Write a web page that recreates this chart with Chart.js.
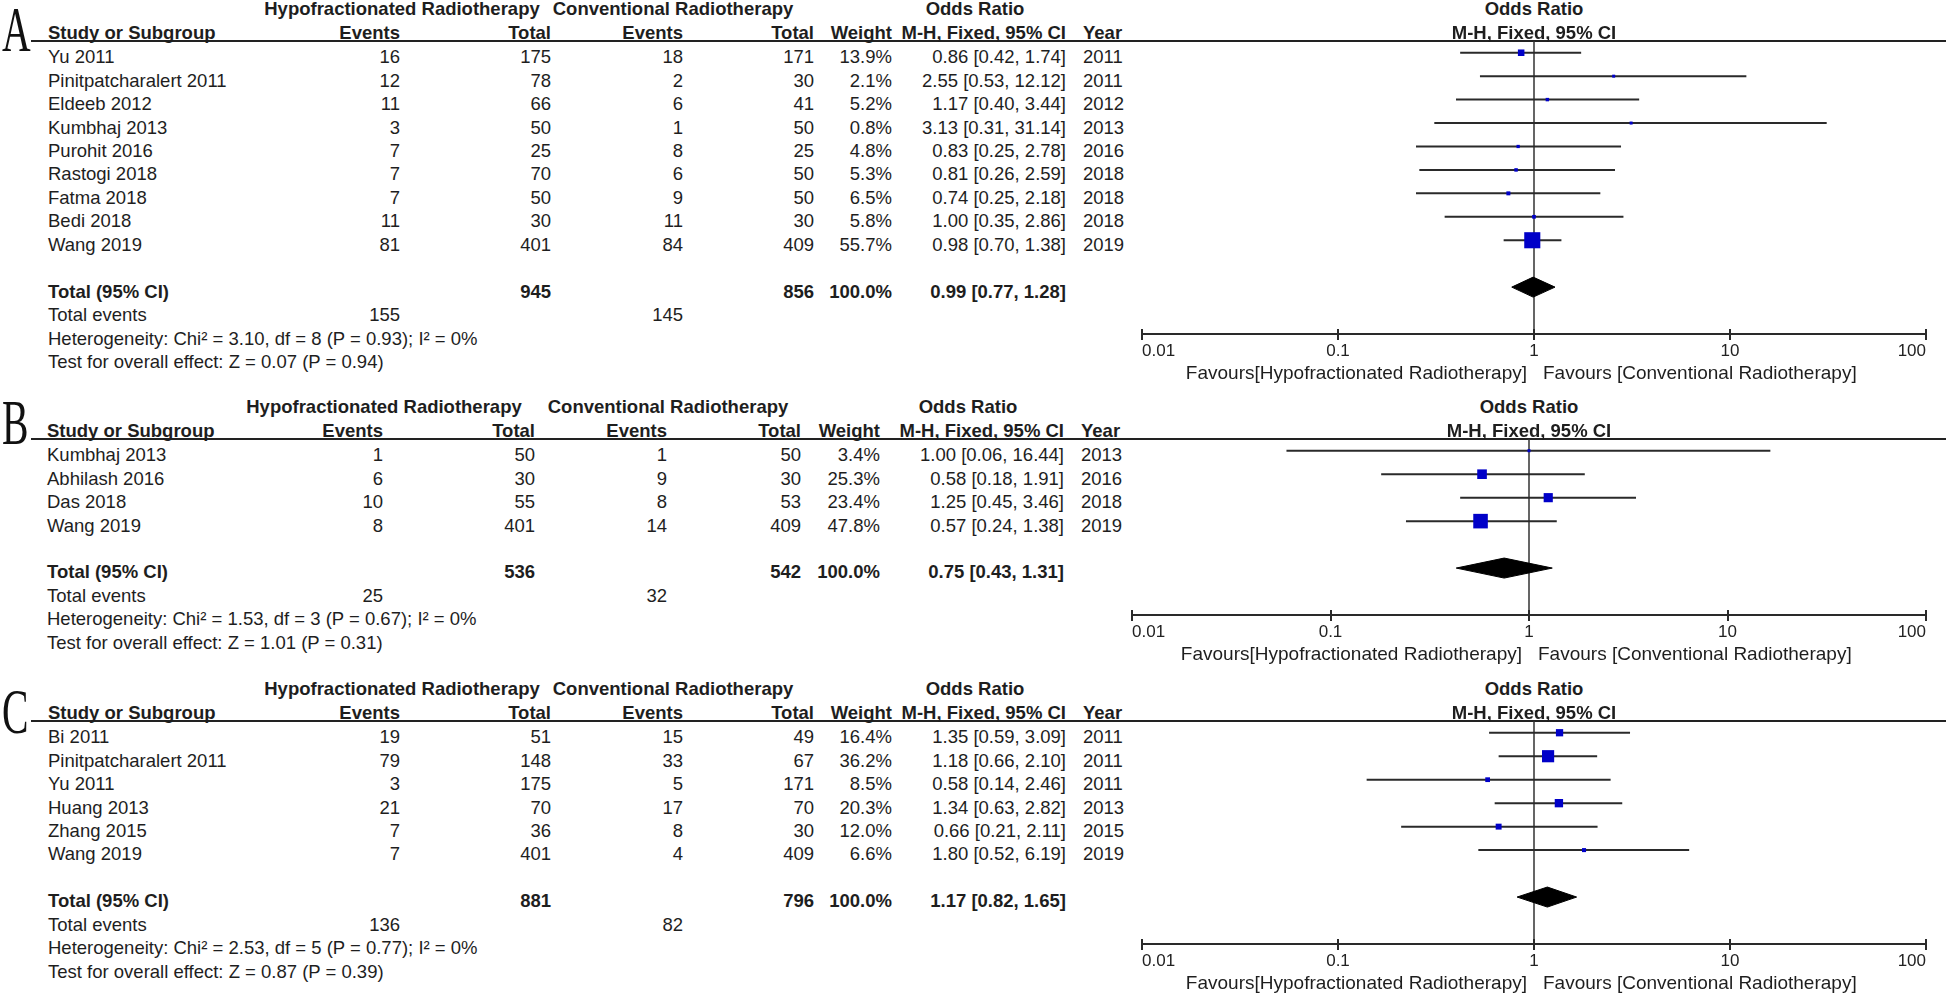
<!DOCTYPE html>
<html>
<head>
<meta charset="utf-8">
<script src="https://cdn.jsdelivr.net/npm/chart.js@4.4.1/dist/chart.umd.min.js"></script>
<style>
  html, body { margin: 0; padding: 0; background: #fff; }
  #page { position: relative; width: 1946px; height: 994px; overflow: hidden;
    font-family: "Liberation Sans", Arial, sans-serif; font-size: 18.5px; color: #1e1e1e; }
  .t { position: absolute; height: 22px; line-height: 22px; white-space: nowrap; }
  .b { font-weight: bold; }
  .r { transform: translateX(-100%); }
  .c { transform: translateX(-50%); }
  .fav { font-size: 19px; }
  .rule { position: absolute; height: 2px; background: #222; left: 31px; right: 0; }
  .letter { position: absolute; font-family: "Liberation Serif", "Times New Roman", serif;
    font-size: 64px; line-height: 64px; transform: scaleX(0.62); transform-origin: left center; color: #111; }
  canvas { position: absolute; }
</style>
</head>
<body>
<div id="page"></div>
<script>
// panel A
var studiesA = ['Yu 2011', 'Pinitpatcharalert 2011', 'Eldeeb 2012', 'Kumbhaj 2013', 'Purohit 2016', 'Rastogi 2018', 'Fatma 2018', 'Bedi 2018', 'Wang 2019'];
var hypoEventsA = [16, 12, 11, 3, 7, 7, 7, 11, 81];
var hypoTotalA = [175, 78, 66, 50, 25, 70, 50, 30, 401];
var convEventsA = [18, 2, 6, 1, 8, 6, 9, 11, 84];
var convTotalA = [171, 30, 41, 50, 25, 50, 50, 30, 409];
var weightA = [13.9, 2.1, 5.2, 0.8, 4.8, 5.3, 6.5, 5.8, 55.7];
var oddsA = [0.86, 2.55, 1.17, 3.13, 0.83, 0.81, 0.74, 1.00, 0.98];
var lowA = [0.42, 0.53, 0.40, 0.31, 0.25, 0.26, 0.25, 0.35, 0.70];
var highA = [1.74, 12.12, 3.44, 31.14, 2.78, 2.59, 2.18, 2.86, 1.38];
var yearA = [2011, 2011, 2012, 2013, 2016, 2018, 2018, 2018, 2019];
var pooledA = [0.99, 0.77, 1.28];
var totalsA = [945, 856];
var totalEventsA = [155, 145];
var hetA = 'Heterogeneity: Chi² = 3.10, df = 8 (P = 0.93); I² = 0%';
var testA = 'Test for overall effect: Z = 0.07 (P = 0.94)';

// panel B
var studiesB = ['Kumbhaj 2013', 'Abhilash 2016', 'Das 2018', 'Wang 2019'];
var hypoEventsB = [1, 6, 10, 8];
var hypoTotalB = [50, 30, 55, 401];
var convEventsB = [1, 9, 8, 14];
var convTotalB = [50, 30, 53, 409];
var weightB = [3.4, 25.3, 23.4, 47.8];
var oddsB = [1.00, 0.58, 1.25, 0.57];
var lowB = [0.06, 0.18, 0.45, 0.24];
var highB = [16.44, 1.91, 3.46, 1.38];
var yearB = [2013, 2016, 2018, 2019];
var pooledB = [0.75, 0.43, 1.31];
var totalsB = [536, 542];
var totalEventsB = [25, 32];
var hetB = 'Heterogeneity: Chi² = 1.53, df = 3 (P = 0.67); I² = 0%';
var testB = 'Test for overall effect: Z = 1.01 (P = 0.31)';

// panel C
var studiesC = ['Bi 2011', 'Pinitpatcharalert 2011', 'Yu 2011', 'Huang 2013', 'Zhang 2015', 'Wang 2019'];
var hypoEventsC = [19, 79, 3, 21, 7, 7];
var hypoTotalC = [51, 148, 175, 70, 36, 401];
var convEventsC = [15, 33, 5, 17, 8, 4];
var convTotalC = [49, 67, 171, 70, 30, 409];
var weightC = [16.4, 36.2, 8.5, 20.3, 12.0, 6.6];
var oddsC = [1.35, 1.18, 0.58, 1.34, 0.66, 1.80];
var lowC = [0.59, 0.66, 0.14, 0.63, 0.21, 0.52];
var highC = [3.09, 2.10, 2.46, 2.82, 2.11, 6.19];
var yearC = [2011, 2011, 2011, 2013, 2015, 2019];
var pooledC = [1.17, 0.82, 1.65];
var totalsC = [881, 796];
var totalEventsC = [136, 82];
var hetC = 'Heterogeneity: Chi² = 2.53, df = 5 (P = 0.77); I² = 0%';
var testC = 'Test for overall effect: Z = 0.87 (P = 0.39)';

// axis
var tickValues = [0.01, 0.1, 1, 10, 100];
var tickLabels = ['0.01', '0.1', '1', '10', '100'];
var groupLabels = ['Hypofractionated Radiotherapy', 'Conventional Radiotherapy'];
var favourLabels = ['Favours[Hypofractionated Radiotherapy]', 'Favours [Conventional Radiotherapy]'];

// layout
var rowH = 23.45;
var colsAC = { name: 48, ev1: 400, tot1: 551, ev2: 683, tot2: 814, wt: 892, orr: 1066, yr: 1083, h1: 402, h2: 673, hOR: 975 };
var colsB = { name: 47, ev1: 383, tot1: 535, ev2: 667, tot2: 801, wt: 880, orr: 1064, yr: 1081, h1: 384, h2: 668, hOR: 968 };

var panels = [
  { letter: 'A', letterY: 30, lineY: 41, cols: colsAC, plotX: [1142, 1926], studies: studiesA, ev1: hypoEventsA, tot1: hypoTotalA, ev2: convEventsA, tot2: convTotalA,
    weight: weightA, odds: oddsA, low: lowA, high: highA, year: yearA, pooled: pooledA, totals: totalsA, events: totalEventsA, het: hetA, test: testA },
  { letter: 'B', letterY: 423, lineY: 439, cols: colsB, plotX: [1132, 1926], studies: studiesB, ev1: hypoEventsB, tot1: hypoTotalB, ev2: convEventsB, tot2: convTotalB,
    weight: weightB, odds: oddsB, low: lowB, high: highB, year: yearB, pooled: pooledB, totals: totalsB, events: totalEventsB, het: hetB, test: testB },
  { letter: 'C', letterY: 712, lineY: 721, cols: colsAC, plotX: [1142, 1926], studies: studiesC, ev1: hypoEventsC, tot1: hypoTotalC, ev2: convEventsC, tot2: convTotalC,
    weight: weightC, odds: oddsC, low: lowC, high: highC, year: yearC, pooled: pooledC, totals: totalsC, events: totalEventsC, het: hetC, test: testC }
];

var page = document.getElementById('page');

function txt(s, x, y, cls) {
  var d = document.createElement('div');
  d.className = 't ' + (cls || '');
  d.textContent = s;
  d.style.left = x + 'px';
  d.style.top = (y - 11) + 'px';
  page.appendChild(d);
  return d;
}

function fmtOR(v, lo, hi) {
  return v.toFixed(2) + ' [' + lo.toFixed(2) + ', ' + hi.toFixed(2) + ']';
}

// square side grows with study weight
function markerSide(w) {
  return Math.max(3, 1.18 * Math.pow(w, 0.65));
}

// little tick marks above the axis line
var tickUp = {
  id: 'tickUp',
  afterDraw: function (chart) {
    var s = chart.scales.x, ctx = chart.ctx;
    ctx.save();
    ctx.strokeStyle = '#2a2a2a';
    ctx.lineWidth = 2;
    s.ticks.forEach(function (t) {
      var x = Math.round(s.getPixelForValue(t.value));
      ctx.beginPath();
      ctx.moveTo(x, s.top);
      ctx.lineTo(x, s.top - 5);
      ctx.stroke();
    });
    ctx.restore();
  }
};

function drawPanel(p) {
  var n = p.studies.length;
  var top = p.lineY;
  var c = p.cols;
  var textY = function (i) { return top + rowH * (i + 0.5) + 4.5; };
  var h1 = top - 32, h2 = top - 8;

  var L = document.createElement('div');
  L.className = 'letter';
  L.textContent = p.letter;
  L.style.left = '2px';
  L.style.top = (p.letterY - 32) + 'px';
  page.appendChild(L);

  var rule = document.createElement('div');
  rule.className = 'rule';
  rule.style.top = (top - 1) + 'px';
  page.appendChild(rule);

  // table header
  txt(groupLabels[0], c.h1, h1, 'b c');
  txt(groupLabels[1], c.h2, h1, 'b c');
  txt('Odds Ratio', c.hOR, h1, 'b c');
  txt('Study or Subgroup', c.name, h2, 'b');
  txt('Events', c.ev1, h2, 'b r');
  txt('Total', c.tot1, h2, 'b r');
  txt('Events', c.ev2, h2, 'b r');
  txt('Total', c.tot2, h2, 'b r');
  txt('Weight', c.wt, h2, 'b r');
  txt('M-H, Fixed, 95% CI', c.orr, h2, 'b r');
  txt('Year', c.yr, h2, 'b');

  // study rows
  for (var i = 0; i < n; i++) {
    var y = textY(i);
    txt(p.studies[i], c.name, y);
    txt(String(p.ev1[i]), c.ev1, y, 'r');
    txt(String(p.tot1[i]), c.tot1, y, 'r');
    txt(String(p.ev2[i]), c.ev2, y, 'r');
    txt(String(p.tot2[i]), c.tot2, y, 'r');
    txt(p.weight[i].toFixed(1) + '%', c.wt, y, 'r');
    txt(fmtOR(p.odds[i], p.low[i], p.high[i]), c.orr, y, 'r');
    txt(String(p.year[i]), c.yr, y);
  }

  // totals
  var yT = textY(n + 1);
  txt('Total (95% CI)', c.name, yT, 'b');
  txt(String(p.totals[0]), c.tot1, yT, 'b r');
  txt(String(p.totals[1]), c.tot2, yT, 'b r');
  txt('100.0%', c.wt, yT, 'b r');
  txt(fmtOR(p.pooled[0], p.pooled[1], p.pooled[2]), c.orr, yT, 'b r');
  txt('Total events', c.name, textY(n + 2));
  txt(String(p.events[0]), c.ev1, textY(n + 2), 'r');
  txt(String(p.events[1]), c.ev2, textY(n + 2), 'r');
  txt(p.het, c.name, textY(n + 3));
  txt(p.test, c.name, textY(n + 4));

  // forest plot
  var areaH = Math.round(rowH * (n + 3.5));
  var cv = document.createElement('canvas');
  cv.width = 846;
  cv.height = areaH + 30;
  cv.style.left = '1100px';
  cv.style.top = top + 'px';
  page.appendChild(cv);

  var datasets = [];
  datasets.push({
    type: 'scatter',
    data: p.odds.map(function (v, i) { return { x: v, y: i }; }),
    pointStyle: 'rect',
    pointRadius: p.weight.map(function (w) { return markerSide(w) / Math.SQRT2; }),
    backgroundColor: '#0000c8',
    borderWidth: 0,
    order: 0
  });
  var dh = 10 / rowH;
  var rowP = n + 1;
  datasets.push({
    type: 'line',
    data: [{ x: p.pooled[1], y: rowP }, { x: p.pooled[0], y: rowP - dh }, { x: p.pooled[2], y: rowP }],
    borderColor: '#000', backgroundColor: '#000', borderWidth: 1, pointRadius: 0, fill: '+1', order: 1
  });
  datasets.push({
    type: 'line',
    data: [{ x: p.pooled[1], y: rowP }, { x: p.pooled[0], y: rowP + dh }, { x: p.pooled[2], y: rowP }],
    borderColor: '#000', borderWidth: 1, pointRadius: 0, fill: false, order: 1
  });
  for (var k = 0; k < n; k++) {
    datasets.push({
      type: 'line',
      data: [{ x: p.low[k], y: k }, { x: p.high[k], y: k }],
      borderColor: '#2a2a2a', borderWidth: 2, pointRadius: 0, fill: false, order: 2
    });
  }
  datasets.push({
    type: 'line',
    data: [{ x: 1, y: -0.5 }, { x: 1, y: n + 3 }],
    borderColor: '#333', borderWidth: 1.5, pointRadius: 0, fill: false, order: 3
  });

  var chart = new Chart(cv, {
    type: 'scatter',
    data: { datasets: datasets },
    options: {
      responsive: false,
      animation: false,
      events: [],
      layout: { autoPadding: false, padding: { left: p.plotX[0] - 1100, right: 1946 - p.plotX[1], top: 0, bottom: 0 } },
      plugins: { legend: { display: false }, tooltip: { enabled: false } },
      scales: {
        x: {
          type: 'logarithmic', min: 0.01, max: 100, position: 'bottom',
          afterBuildTicks: function (s) { s.ticks = tickValues.map(function (v) { return { value: v }; }); },
          afterFit: function (s) { s.height = 30; },
          ticks: {
            callback: function (v, i) { return tickLabels[i]; },
            align: 'inner', padding: 1, autoSkip: false, maxRotation: 0,
            color: '#222', font: { family: '"Liberation Sans", Arial, sans-serif', size: 17 }
          },
          grid: { drawOnChartArea: false, tickLength: 6, color: '#2a2a2a', lineWidth: 2 },
          border: { color: '#2a2a2a', width: 2 }
        },
        y: { display: false, min: -0.5, max: n + 3, reverse: true }
      }
    },
    plugins: [tickUp]
  });

  var x1 = 1100 + chart.scales.x.getPixelForValue(1);
  var axisY = top + chart.chartArea.bottom;
  txt('Odds Ratio', x1, h1, 'b c');
  txt('M-H, Fixed, 95% CI', x1, h2, 'b c');
  txt(favourLabels[0], x1 - 7, axisY + 39, 'r fav');
  txt(favourLabels[1], x1 + 9, axisY + 39, 'fav');
}

panels.forEach(drawPanel);
</script>
</body>
</html>
